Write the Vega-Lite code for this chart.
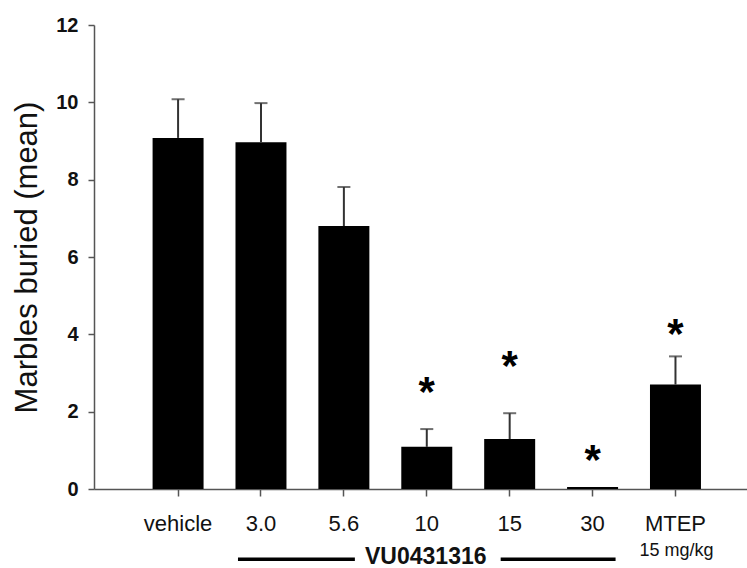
{
  "$schema": "https://vega.github.io/schema/vega-lite/v6.json",
  "width": 653,
  "height": 464,
  "autosize": "none",
  "padding": {"left": 94, "top": 25, "right": 0, "bottom": 79},
  "background": "white",
  "config": {"view": {"stroke": null}, "font": "Liberation Sans", "axis": {"grid": false}},
  "datasets": {
    "groups": [
      {"group": "vehicle", "mean": 9.08, "upper": 10.08, "star": null},
      {"group": "3.0", "mean": 8.97, "upper": 9.98, "star": null},
      {"group": "5.6", "mean": 6.8, "upper": 7.81, "star": null},
      {"group": "10", "mean": 1.09, "upper": 1.55, "star": 2.7},
      {"group": "15", "mean": 1.29, "upper": 1.96, "star": 3.35},
      {"group": "30", "mean": 0.05, "upper": 0.05, "star": 0.94},
      {"group": "MTEP", "mean": 2.7, "upper": 3.43, "star": 4.18}
    ],
    "left": [{"from": "3.0", "to": "5.6"}],
    "right": [{"from": "15", "to": "30"}],
    "notes": [{"at": "10", "text": "VU0431316"}],
    "subs": [{"at": "MTEP", "text": "15 mg/kg"}]
  },
  "layer": [
    {
      "data": {"name": "groups"},
      "mark": {"type": "bar", "color": "black"},
      "encoding": {
        "x": {
          "field": "group", "type": "nominal",
          "scale": {"domain": ["vehicle", "3.0", "5.6", "10", "15", "30", "MTEP"], "paddingInner": 0.385, "paddingOuter": 0.631, "align": 0.56},
          "axis": {"title": null, "labelAngle": 0, "labelFontSize": 22, "labelColor": "#111", "labelPadding": 17, "tickSize": 7, "domainColor": "#555", "tickColor": "#555", "domainWidth": 1.5, "tickWidth": 1.5}
        },
        "y": {
          "field": "mean", "type": "quantitative",
          "scale": {"domain": [0, 12], "nice": false},
          "axis": {"values": [0, 2, 4, 6, 8, 10, 12], "title": "Marbles buried (mean)", "titleFontSize": 31, "titleFontWeight": "normal", "titleColor": "#111", "titlePadding": 12, "labelFontSize": 20, "labelFontWeight": "bold", "labelColor": "#111", "labelPadding": 10, "tickSize": 6, "tickColor": "#555", "domainColor": "#555", "domainWidth": 1.5, "tickWidth": 1.5}
        }
      }
    },
    {
      "data": {"name": "groups"},
      "transform": [{"filter": "datum.upper > datum.mean"}],
      "mark": {"type": "rule", "color": "#333", "strokeWidth": 2},
      "encoding": {
        "x": {"field": "group", "type": "nominal"},
        "y": {"field": "mean", "type": "quantitative"},
        "y2": {"field": "upper"}
      }
    },
    {
      "data": {"name": "groups"},
      "transform": [{"filter": "datum.upper > datum.mean"}],
      "mark": {"type": "tick", "color": "#333", "thickness": 2, "size": 13, "orient": "horizontal"},
      "encoding": {
        "x": {"field": "group", "type": "nominal"},
        "y": {"field": "upper", "type": "quantitative"}
      }
    },
    {
      "data": {"name": "groups"},
      "transform": [{"filter": "datum.star != null"}],
      "mark": {"type": "text", "text": "*", "fontSize": 42, "fontWeight": "bold", "baseline": "alphabetic", "dy": 21, "color": "black"},
      "encoding": {
        "x": {"field": "group", "type": "nominal"},
        "y": {"field": "star", "type": "quantitative"}
      }
    },
    {
      "data": {"name": "left"},
      "mark": {"type": "rule", "color": "black", "strokeWidth": 3.5, "xOffset": -23, "x2Offset": 11},
      "encoding": {
        "x": {"field": "from", "type": "nominal"},
        "x2": {"field": "to"},
        "y": {"datum": -1.82}
      }
    },
    {
      "data": {"name": "right"},
      "mark": {"type": "rule", "color": "black", "strokeWidth": 3.5, "xOffset": -9, "x2Offset": 23},
      "encoding": {
        "x": {"field": "from", "type": "nominal"},
        "x2": {"field": "to"},
        "y": {"datum": -1.82}
      }
    },
    {
      "data": {"name": "notes"},
      "mark": {"type": "text", "fontSize": 23, "fontWeight": "bold", "baseline": "alphabetic", "color": "#111", "dx": -1},
      "encoding": {
        "x": {"field": "at", "type": "nominal"},
        "y": {"datum": -1.93},
        "text": {"field": "text"}
      }
    },
    {
      "data": {"name": "subs"},
      "mark": {"type": "text", "fontSize": 18, "baseline": "alphabetic", "color": "#111", "dx": 1},
      "encoding": {
        "x": {"field": "at", "type": "nominal"},
        "y": {"datum": -1.72},
        "text": {"field": "text"}
      }
    }
  ]
}
